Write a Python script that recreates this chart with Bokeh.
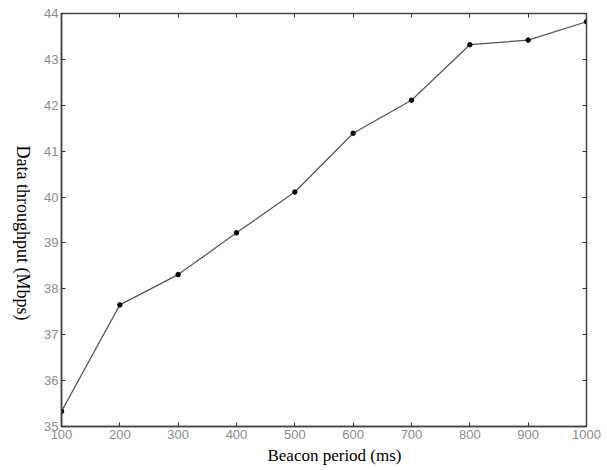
import math
from bokeh.plotting import figure
from bokeh.layouts import row, column
from bokeh.models import LinearAxis, Range1d, FixedTicker
from bokeh.core.properties import value
from bokeh.embed import file_html
from bokeh.resources import INLINE

beacon_period = [100, 200, 300, 400, 500, 600, 700, 800, 900, 1000]
throughput = [35.33, 37.65, 38.31, 39.22, 40.11, 41.39, 42.11, 43.32, 43.42, 43.82]
x_ticks = [100, 200, 300, 400, 500, 600, 700, 800, 900, 1000]
y_ticks = [35, 36, 37, 38, 39, 40, 41, 42, 43, 44]
x_label = "Beacon period (ms)"
y_label = "Data throughput (Mbps)"

LEFT_W = 35
BOT_H = 26
W, H = 607, 470

p = figure(width=W - LEFT_W, height=H - BOT_H, output_backend="svg", toolbar_location=None,
           x_range=Range1d(100, 1000), y_range=Range1d(35, 44),
           min_border_left=61 - LEFT_W, min_border_right=21, min_border_top=13,
           min_border_bottom=44 - BOT_H)
p.background_fill_color = "white"
p.border_fill_color = "white"
p.outline_line_color = "#444444"
p.outline_line_width = 1.5
p.grid.visible = False

tick_color = "#8c8c8c"
for ax in [p.xaxis[0], p.yaxis[0]]:
    ax.axis_line_color = "#444444"
    ax.axis_line_width = 1.5
    ax.major_tick_in = 4
    ax.major_tick_out = 0
    ax.minor_tick_line_color = None
    ax.major_tick_line_color = "#333333"
    ax.major_label_text_color = tick_color
    ax.major_label_text_font = "Liberation Sans"
    ax.major_label_text_font_size = "13px"
    ax.major_label_standoff = 3

p.xaxis[0].ticker = FixedTicker(ticks=x_ticks)
p.yaxis[0].ticker = FixedTicker(ticks=y_ticks)

# mirrored ticks on top and right (no labels)
top = LinearAxis(ticker=FixedTicker(ticks=x_ticks),
                 major_label_overrides={t: "" for t in x_ticks},
                 major_tick_in=4, major_tick_out=0, minor_tick_line_color=None,
                 axis_line_color="#444444", major_tick_line_color="#333333",
                 major_label_standoff=0)
right = LinearAxis(ticker=FixedTicker(ticks=y_ticks),
                   major_label_overrides={t: "" for t in y_ticks},
                   major_tick_in=4, major_tick_out=0, minor_tick_line_color=None,
                   axis_line_color="#444444", major_tick_line_color="#333333",
                   major_label_standoff=0)
p.add_layout(top, "above")
p.add_layout(right, "right")

p.line(beacon_period, throughput, line_color="#555555", line_width=1.2)
p.scatter(beacon_period, throughput, size=4.5, fill_color="black", line_color="black")

# narrow strip holding the y-axis title, which reads top-to-bottom
lf = figure(width=LEFT_W, height=H - BOT_H, output_backend="svg", toolbar_location=None,
            x_range=Range1d(0, LEFT_W), y_range=Range1d(H - BOT_H, 0),
            x_axis_type=None, y_axis_type=None, min_border=0)
lf.outline_line_color = None
lf.grid.visible = False
lf.text(x=[22], y=[236], text=[y_label], angle=-math.pi / 2,
        text_font=value("Liberation Serif"), text_font_size="18px",
        text_color="black", text_align="center", text_baseline="middle")

# strip holding the x-axis title
bf = figure(width=W, height=BOT_H, output_backend="svg", toolbar_location=None,
            x_range=Range1d(0, W), y_range=Range1d(BOT_H, 0),
            x_axis_type=None, y_axis_type=None, min_border=0)
bf.outline_line_color = None
bf.grid.visible = False
bf.text(x=[334], y=[11], text=[x_label],
        text_font=value("Liberation Serif"), text_font_size="17px",
        text_color="black", text_align="center", text_baseline="middle")

layout = column(row(lf, p, spacing=0), bf, spacing=0)
open("out.html", "w").write(file_html(layout, INLINE))
